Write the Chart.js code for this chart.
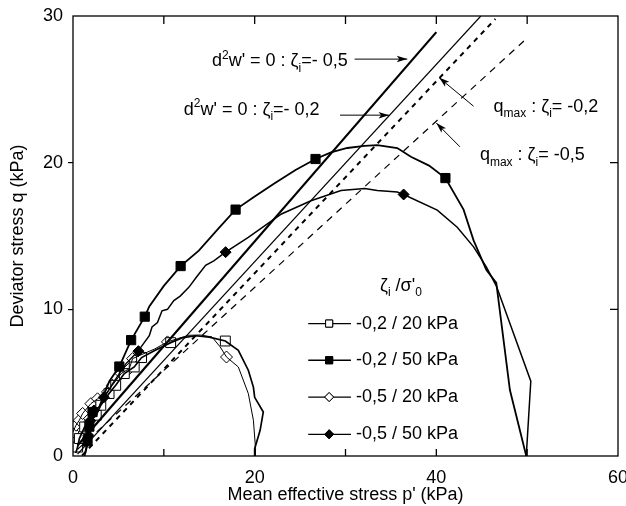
<!DOCTYPE html>
<html>
<head>
<meta charset="utf-8">
<script src="https://cdn.jsdelivr.net/npm/chart.js@4.4.1/dist/chart.umd.min.js"></script>
<style>
  html, body { margin: 0; padding: 0; background: #fff; }
</style>
</head>
<body>
<canvas id="chart" width="626" height="506"></canvas>
<script>
// --- data (p', q in kPa) ---

// straight lines
const lineD05P = [0.5, 40.0];   // d2w'=0, zeta -0.5 (thick)
const lineD05Q = [0.71, 28.9];
const lineD02P = [0.5, 44.9];   // d2w'=0, zeta -0.2 (thin)
const lineD02Q = [0.13, 30.0];
const lineQ02P = [1.0, 46.5];   // qmax, zeta -0.2 (bold dashes)
const lineQ02Q = [0.03, 29.8];
const lineQ05P = [0.5, 50.0];   // qmax, zeta -0.5 (thin dashes)
const lineQ05Q = [0.45, 28.5];

// -0,2 / 50 kPa (filled squares)
const sq50P = [1.35, 1.6, 1.8, 2.15, 2.9, 3.3, 4.0, 5.1, 6.4, 7.9, 8.4, 10.0, 11.85, 13.85, 16.0, 17.9, 20.0, 22.2, 24.5, 26.7, 28.4, 30.2, 32.1, 33.5, 35.7, 37.2, 39.2, 41.0, 43.0, 44.1, 45.5, 46.6, 48.1, 49.9];
const sq50Q = [0.2, 1.1, 2.3, 3.0, 3.35, 4.0, 5.1, 6.1, 7.9, 9.5, 10.2, 11.6, 12.95, 14.0, 15.5, 16.8, 17.7, 18.6, 19.5, 20.25, 20.7, 21.0, 21.15, 21.2, 21.0, 20.4, 19.8, 18.95, 16.8, 14.7, 12.7, 11.8, 4.5, 0];
const sq50MarkP = [1.6, 1.8, 2.15, 5.1, 6.4, 7.9, 11.85, 17.9, 26.7, 41.0];
const sq50MarkQ = [1.0, 2.0, 3.0, 6.1, 7.9, 9.5, 12.95, 16.8, 20.25, 18.95];

// -0,5 / 50 kPa (filled diamonds)
const di50P = [1.28, 1.64, 2.0, 2.37, 2.88, 3.46, 4.37, 5.84, 7.1, 8.4, 8.7, 9.3, 9.8, 10.4, 11.1, 11.8, 12.75, 13.6, 14.6, 15.5, 16.8, 19.3, 22.95, 26.2, 29.5, 32.1, 33.5, 35.7, 36.4, 40.1, 42.3, 44.1, 45.5, 46.6, 50.4, 49.9];
const di50Q = [0, 0.85, 2.43, 3.12, 3.34, 4.02, 4.94, 6.3, 7.1, 8.2, 8.8, 9.1, 9.9, 10.0, 10.6, 10.9, 11.5, 12.2, 13.0, 13.3, 13.9, 14.9, 16.5, 17.4, 18.1, 18.24, 18.1, 18.0, 17.83, 16.76, 15.6, 14.26, 12.9, 11.6, 5.1, 0];
const di50MarkP = [1.7, 1.9, 2.3, 3.4, 7.2, 16.8, 36.4];
const di50MarkQ = [1.4, 2.4, 3.1, 4.0, 7.15, 13.9, 17.83];

// -0,2 / 20 kPa (open squares)
const sq20P = [0.3, 0.51, 0.7, 1.28, 1.9, 2.56, 3.06, 3.97, 4.7, 5.65, 6.74, 7.55, 9.0, 10.75, 12.0, 13.5, 15.0, 16.77, 18.2, 19.3, 19.86, 20.0, 20.95, 20.6, 20.0, 20.0];
const sq20Q = [0.2, 0.61, 1.19, 1.98, 2.4, 2.78, 3.46, 4.26, 4.82, 5.62, 6.07, 6.71, 7.2, 7.73, 8.05, 8.2, 8.1, 7.84, 7.2, 5.85, 4.7, 4.0, 3.0, 1.75, 0.5, 0];
const sq20MarkP = [0.51, 0.7, 1.28, 2.56, 3.06, 3.97, 4.7, 5.65, 6.74, 7.55, 10.75, 16.77];
const sq20MarkQ = [0.61, 1.19, 1.98, 2.78, 3.46, 4.26, 4.82, 5.62, 6.07, 6.71, 7.73, 7.84];

// -0,5 / 20 kPa (open diamonds)
const di20P = [0.0, 0.33, 0.7, 1.06, 1.97, 2.7, 3.8, 4.34, 5.3, 6.2, 6.56, 7.5, 9.0, 10.4, 11.5, 12.75, 14.0, 15.3, 16.2, 16.9, 18.2, 19.3, 19.86, 20.1, 20.07];
const di20Q = [1.64, 2.1, 2.44, 2.9, 3.57, 3.9, 4.37, 4.82, 5.62, 5.96, 6.64, 6.9, 7.3, 7.78, 8.0, 8.23, 8.25, 8.12, 7.44, 6.75, 6.07, 4.26, 2.44, 0.5, 0];
const di20MarkP = [0.0, 0.33, 0.7, 1.06, 1.97, 2.7, 3.8, 4.34, 5.3, 6.2, 6.56, 10.4, 16.9];
const di20MarkQ = [1.64, 2.1, 2.44, 2.9, 3.57, 3.9, 4.37, 4.82, 5.62, 5.96, 6.64, 7.78, 6.75];

// axis ticks
const xTickStep = 20;
const yTickStep = 10;
const innerTicksX = [10, 20, 30, 40, 50];
const innerTicksY = [10, 20];

// legend rows
const legendLabels = ['-0,2 / 20 kPa', '-0,2 / 50 kPa', '-0,5 / 20 kPa', '-0,5 / 50 kPa'];

const FONT = '"Liberation Sans", Arial, Helvetica, sans-serif';
const pts = (px, qs) => px.map((p, i) => ({ x: p, y: qs[i] }));

function lineSet(px, qs, width, dash) {
    return { data: pts(px, qs), showLine: true, pointRadius: 0, borderColor: '#000', borderWidth: width, borderDash: dash || [], fill: false, tension: 0 };
}
function markSet(px, qs, style, filled, r) {
    return { data: pts(px, qs), showLine: false, pointStyle: style, pointRadius: r, pointHoverRadius: r,
             backgroundColor: filled ? '#000' : '#fff', borderColor: '#000', borderWidth: 1 };
}

// texts with sub/superscripts; anchors in data units
const notes = [
    { p: 15.3, q: 26.9, runs: [['d'], ['2', 'sup'], ["w' = 0 : ζ"], ['i', 'sub'], ['=- 0,5']] },
    { p: 12.2, q: 23.6, runs: [['d'], ['2', 'sup'], ["w' = 0 : ζ"], ['i', 'sub'], ['=- 0,2']] },
    { p: 46.3, q: 23.8, runs: [['q'], ['max', 'sub'], [' : ζ'], ['i', 'sub'], ['= -0,2']] },
    { p: 44.8, q: 20.5, runs: [['q'], ['max', 'sub'], [' : ζ'], ['i', 'sub'], ['= -0,5']] },
    { p: 33.8, q: 11.6, runs: [['ζ'], ['i', 'sub'], [" /σ'"], ['0', 'sub']] }
];
const arrows = [
    { from: [31.0, 27.06], to: [36.8, 27.06] },
    { from: [29.4, 23.24], to: [34.8, 23.24] },
    { from: [44.1, 23.85], to: [40.3, 25.8] },
    { from: [42.6, 21.08], to: [40.0, 22.7] }
];

function drawRuns(ctx, runs, x0, yMid) {
    let cx = x0;
    runs.forEach(([t, kind]) => {
        ctx.font = (kind ? 12 : 18) + 'px ' + FONT;
        const dy = kind === 'sub' ? 7 : kind === 'sup' ? -6 : 0;
        ctx.fillText(t, cx, yMid + dy);
        cx += ctx.measureText(t).width;
    });
}

const decor = {
    id: 'decor',
    afterDatasetsDraw(chart) {
        const { ctx, chartArea: a, scales: { x, y } } = chart;
        ctx.save();
        ctx.strokeStyle = '#000';
        ctx.fillStyle = '#000';
        ctx.lineWidth = 1.3;
        ctx.setLineDash([]);
        ctx.strokeRect(a.left, a.top, a.right - a.left, a.bottom - a.top);

        // inward ticks
        ctx.beginPath();
        innerTicksX.forEach(v => {
            const px = x.getPixelForValue(v);
            ctx.moveTo(px, a.top); ctx.lineTo(px, a.top + 8);
            ctx.moveTo(px, a.bottom); ctx.lineTo(px, a.bottom - 7);
        });
        innerTicksY.forEach(v => {
            const py = y.getPixelForValue(v);
            ctx.moveTo(a.right, py); ctx.lineTo(a.right - 8, py);
        });
        ctx.stroke();

        // arrows
        ctx.lineWidth = 1;
        arrows.forEach(ar => {
            const x1 = x.getPixelForValue(ar.from[0]), y1 = y.getPixelForValue(ar.from[1]);
            const x2 = x.getPixelForValue(ar.to[0]), y2 = y.getPixelForValue(ar.to[1]);
            const ang = Math.atan2(y2 - y1, x2 - x1);
            ctx.beginPath();
            ctx.moveTo(x1, y1); ctx.lineTo(x2, y2);
            ctx.stroke();
            ctx.beginPath();
            ctx.moveTo(x2, y2);
            ctx.lineTo(x2 - 11 * Math.cos(ang - 0.3), y2 - 11 * Math.sin(ang - 0.3));
            ctx.lineTo(x2 - 8 * Math.cos(ang), y2 - 8 * Math.sin(ang));
            ctx.lineTo(x2 - 11 * Math.cos(ang + 0.3), y2 - 11 * Math.sin(ang + 0.3));
            ctx.closePath();
            ctx.fill();
        });

        // annotations
        ctx.textBaseline = 'middle';
        ctx.textAlign = 'left';
        notes.forEach(n => drawRuns(ctx, n.runs, x.getPixelForValue(n.p), y.getPixelForValue(n.q)));

        // legend
        const rowQ = [9.03, 6.53, 4.02, 1.48];
        const styles = [['rect', false], ['rect', true], ['rectRot', false], ['rectRot', true]];
        const lx1 = x.getPixelForValue(25.9), lx2 = x.getPixelForValue(30.6), mx = x.getPixelForValue(28.2);
        const tx = x.getPixelForValue(31.15);
        legendLabels.forEach((lab, i) => {
            const py = y.getPixelForValue(rowQ[i]);
            ctx.lineWidth = 1.3;
            ctx.beginPath(); ctx.moveTo(lx1, py); ctx.lineTo(lx2, py); ctx.stroke();
            ctx.fillStyle = styles[i][1] ? '#000' : '#fff';
            ctx.lineWidth = 1;
            Chart.helpers.drawPoint(ctx, { pointStyle: styles[i][0], radius: styles[i][0] === 'rect' ? 5 : 4.5, rotation: 0, borderWidth: 1 }, mx, py);
            ctx.fill(); ctx.stroke();
            ctx.fillStyle = '#000';
            ctx.font = '18px ' + FONT;
            ctx.fillText(lab, tx, py);
        });
        ctx.restore();
    }
};

const tickFont = { family: FONT, size: 18 };

new Chart(document.getElementById('chart'), {
    type: 'scatter',
    data: {
        datasets: [
            lineSet(lineD05P, lineD05Q, 2.2),
            lineSet(lineD02P, lineD02Q, 1.2),
            lineSet(lineQ02P, lineQ02Q, 2.0, [5, 5]),
            lineSet(lineQ05P, lineQ05Q, 1.2, [7, 6]),
            lineSet(sq50P, sq50Q, 1.8),
            lineSet(di50P, di50Q, 1.5),
            lineSet(sq20P, sq20Q, 1.7),
            lineSet(di20P, di20Q, 1.0),
            markSet(sq50MarkP, sq50MarkQ, 'rect', true, 6.5),
            markSet(di50MarkP, di50MarkQ, 'rectRot', true, 5.5),
            markSet(sq20MarkP, sq20MarkQ, 'rect', false, 7),
            markSet(di20MarkP, di20MarkQ, 'rectRot', false, 6)
        ]
    },
    options: {
        responsive: false,
        animation: false,
        events: [],
        layout: { padding: { top: 16, right: 4, left: 0, bottom: 0 } },
        plugins: { legend: { display: false }, tooltip: { enabled: false } },
        scales: {
            x: {
                type: 'linear', min: 0, max: 60,
                ticks: { stepSize: xTickStep, padding: 3, color: '#000', font: tickFont, maxRotation: 0 },
                grid: { display: false },
                border: { display: false },
                title: { display: true, text: "Mean effective stress p' (kPa)", color: '#000', font: tickFont, padding: { top: 0, bottom: 0 } },
                afterFit: s => { s.height = 50; s.paddingLeft = 0; s.paddingRight = 0; }
            },
            y: {
                type: 'linear', min: 0, max: 30,
                ticks: { stepSize: yTickStep, padding: 5, color: '#000', font: tickFont },
                grid: {
                    drawOnChartArea: false, tickLength: 5, lineWidth: 1.2,
                    color: c => (c.tick && (c.tick.value === 10 || c.tick.value === 20)) ? '#000' : 'rgba(0,0,0,0)'
                },
                border: { display: false },
                title: { display: true, text: 'Deviator stress q (kPa)', color: '#000', font: tickFont, padding: { top: 7, bottom: 0 } },
                afterFit: s => { s.width = 73; s.paddingTop = 0; s.paddingBottom = 0; }
            }
        }
    },
    plugins: [decor]
});
</script>
</body>
</html>
